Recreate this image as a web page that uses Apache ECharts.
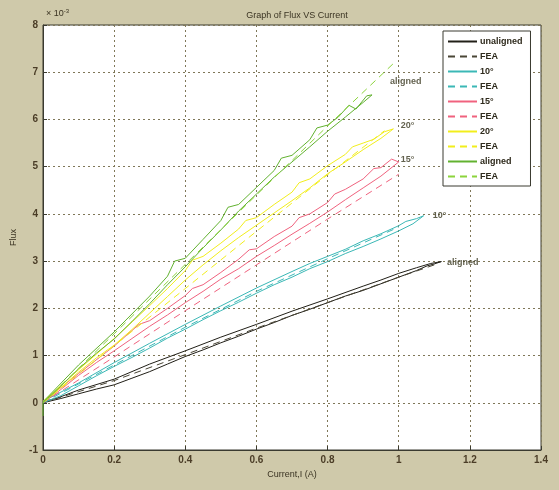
<!DOCTYPE html>
<html>
<head>
<meta charset="utf-8">
<script src="https://cdn.jsdelivr.net/npm/echarts@6/dist/echarts.min.js"></script>
<style>
  html, body { margin: 0; padding: 0; background: #cfc9aa; }
  #chart { width: 559px; height: 490px; }
</style>
</head>
<body>
<div id="chart"></div>
<script>
// flux values are in units of 1e-3 Wb, current in A

const xTicks = [0, 0.2, 0.4, 0.6, 0.8, 1, 1.2, 1.4];
const yTicks = [-1, 0, 1, 2, 3, 4, 5, 6, 7, 8];

// measured loops (rising branch then falling branch)
const unalignedMeas = [
  [0, 0], [0.05, 0.09], [0.1, 0.19], [0.15, 0.29], [0.2, 0.38], [0.25, 0.52], [0.3, 0.66],
  [0.35, 0.82], [0.4, 0.98], [0.45, 1.12], [0.5, 1.27], [0.55, 1.41], [0.6, 1.56],
  [0.65, 1.7], [0.7, 1.85], [0.75, 1.98], [0.8, 2.12], [0.85, 2.26], [0.9, 2.38],
  [0.95, 2.52], [1.0, 2.66], [1.05, 2.8], [1.08, 2.9], [1.1, 2.94], [1.12, 2.99],
  [1.09, 2.95], [1.05, 2.86], [1.0, 2.74], [0.95, 2.6], [0.9, 2.47], [0.8, 2.2],
  [0.7, 1.94], [0.6, 1.66], [0.5, 1.39], [0.4, 1.1], [0.3, 0.82], [0.2, 0.5],
  [0.1, 0.27], [0.04, 0.1], [0, 0.02]
];
const unalignedFea = [[0, 0], [0.2, 0.47], [0.4, 1.02], [0.6, 1.58], [0.8, 2.12], [1.0, 2.66], [1.1, 2.92]];

const deg10Meas = [
  [0, 0], [0.05, 0.15], [0.1, 0.36], [0.15, 0.57], [0.2, 0.77], [0.25, 0.96], [0.3, 1.16],
  [0.35, 1.37], [0.4, 1.56], [0.45, 1.76], [0.5, 1.95], [0.55, 2.13], [0.6, 2.32],
  [0.65, 2.5], [0.7, 2.66], [0.75, 2.84], [0.8, 2.99], [0.85, 3.16], [0.9, 3.31],
  [0.95, 3.47], [1.0, 3.64], [1.04, 3.79], [1.07, 3.96],
  [1.05, 3.9], [1.02, 3.84], [1.0, 3.75], [0.95, 3.58], [0.9, 3.43], [0.85, 3.25],
  [0.8, 3.1], [0.75, 2.95], [0.7, 2.78], [0.6, 2.43], [0.5, 2.05], [0.4, 1.66],
  [0.3, 1.26], [0.2, 0.85], [0.1, 0.42], [0, 0.03]
];
const deg10Fea = [[0, 0], [0.2, 0.8], [0.4, 1.6], [0.6, 2.36], [0.8, 3.05], [1.0, 3.72]];

const deg15Meas = [
  [0, 0], [0.05, 0.28], [0.1, 0.58], [0.15, 0.85], [0.2, 1.1], [0.25, 1.36], [0.3, 1.62],
  [0.35, 1.86], [0.4, 2.12], [0.45, 2.36], [0.5, 2.62], [0.55, 2.84], [0.6, 3.1],
  [0.65, 3.33], [0.7, 3.57], [0.75, 3.8], [0.8, 4.04], [0.85, 4.3], [0.9, 4.55],
  [0.95, 4.8], [1.0, 5.1],
  [0.98, 5.16], [0.95, 4.98], [0.93, 4.96], [0.9, 4.74], [0.85, 4.52], [0.82, 4.42],
  [0.8, 4.24], [0.75, 4.0], [0.72, 3.92], [0.7, 3.74], [0.65, 3.52], [0.6, 3.26],
  [0.58, 3.24], [0.55, 3.04], [0.5, 2.76], [0.45, 2.5], [0.42, 2.42], [0.4, 2.27],
  [0.35, 2.0], [0.3, 1.74], [0.27, 1.66], [0.2, 1.2], [0.1, 0.62], [0, 0.02]
];
const deg15Fea = [[0, 0], [0.2, 0.97], [0.4, 1.95], [0.6, 2.92], [0.8, 3.89], [1.0, 4.84]];

const deg20Meas = [
  [0, 0], [0.05, 0.32], [0.1, 0.65], [0.15, 0.95], [0.2, 1.22], [0.25, 1.55], [0.3, 1.9],
  [0.35, 2.25], [0.4, 2.6], [0.45, 2.92], [0.5, 3.22], [0.55, 3.5], [0.6, 3.76],
  [0.65, 4.02], [0.7, 4.28], [0.75, 4.55], [0.8, 4.85], [0.85, 5.1], [0.9, 5.36],
  [0.95, 5.6], [0.985, 5.8],
  [0.96, 5.74], [0.93, 5.58], [0.9, 5.5], [0.87, 5.42], [0.85, 5.26], [0.8, 5.02],
  [0.75, 4.74], [0.72, 4.66], [0.7, 4.46], [0.65, 4.2], [0.6, 3.92], [0.57, 3.86],
  [0.55, 3.68], [0.5, 3.38], [0.45, 3.1], [0.42, 3.02], [0.4, 2.8], [0.35, 2.42],
  [0.3, 2.06], [0.2, 1.36], [0.1, 0.7], [0, 0.03]
];
const deg20Fea = [[0, 0], [0.2, 1.21], [0.4, 2.42], [0.6, 3.63], [0.8, 4.83], [0.96, 5.76]];

const alignedMeas = [
  [0, -0.28], [0, 0], [0.05, 0.35], [0.1, 0.72], [0.15, 1.05], [0.2, 1.35], [0.25, 1.72],
  [0.3, 2.1], [0.35, 2.5], [0.4, 2.88], [0.45, 3.28], [0.5, 3.66], [0.55, 4.06],
  [0.6, 4.42], [0.65, 4.78], [0.7, 5.1], [0.75, 5.42], [0.8, 5.75], [0.85, 6.05],
  [0.9, 6.36], [0.925, 6.52],
  [0.91, 6.5], [0.88, 6.22], [0.86, 6.3], [0.83, 6.05], [0.8, 5.88], [0.77, 5.82],
  [0.75, 5.57], [0.7, 5.24], [0.67, 5.18], [0.65, 4.92], [0.6, 4.56], [0.55, 4.2],
  [0.52, 4.14], [0.5, 3.86], [0.45, 3.46], [0.4, 3.06], [0.37, 3.0], [0.35, 2.68],
  [0.3, 2.26], [0.2, 1.5], [0.1, 0.8], [0, 0.02]
];
const alignedFea = [[0, 0], [0.2, 1.46], [0.4, 2.93], [0.6, 4.4], [0.8, 5.86], [0.99, 7.22]];

// text tags next to the curve ends
const tagText = ['aligned', '20°', '15°', '10°', 'aligned'];
const tagX = [0.97, 1.0, 1.0, 1.09, 1.13];
const tagY = [6.8, 5.87, 5.16, 3.97, 2.96];

const colours = {
  black: '#222018',
  cyan: '#3bb8b6',
  pink: '#f0627e',
  yellow: '#f2ee1c',
  green: '#62b230',
  greenFea: '#8cd43c'
};

const FONT = '"Liberation Sans", Arial, sans-serif';
const TXT = '#3a3322';
const TICK = '#4b3d27';

function measSeries(name, data, colour) {
  return {
    name: name,
    type: 'line',
    data: data,
    symbol: 'none',
    lineStyle: { width: 1, color: colour },
    itemStyle: { color: colour },
    animation: false
  };
}

function feaSeries(name, data, colour) {
  return {
    name: name,
    type: 'line',
    data: data,
    symbol: 'none',
    lineStyle: { width: 1, color: colour, type: [7, 5] },
    itemStyle: { color: colour },
    animation: false
  };
}

const chart = echarts.init(document.getElementById('chart'));

chart.setOption({
  backgroundColor: '#cfc9aa',
  animation: false,
  textStyle: { fontFamily: FONT },

  title: {
    text: 'Graph of Flux VS Current',
    left: 292,
    top: 6,
    textAlign: 'center',
    textStyle: { fontSize: 9, fontWeight: 'normal', color: TXT, fontFamily: FONT }
  },

  graphic: [{
    type: 'text',
    left: 46,
    top: 8,
    style: {
      text: '× 10{s|-3}',
      rich: { s: { fontSize: 6, verticalAlign: 'top', padding: [0, 0, 6, 0] } },
      fontSize: 9,
      fill: TXT,
      fontFamily: FONT
    }
  }],

  grid: {
    left: 43, right: 18, top: 25, bottom: 40,
    show: true,
    backgroundColor: '#ffffff',
    borderColor: '#3a3a30',
    borderWidth: 1
  },

  legend: {
    orient: 'vertical',
    left: 443,
    top: 31,
    width: 89,
    itemWidth: 29,
    itemHeight: 6,
    itemGap: 6,
    padding: [6, 8, 5, 4],
    backgroundColor: '#ffffff',
    borderColor: '#3a3a30',
    borderWidth: 1,
    itemStyle: { color: 'rgba(0,0,0,0)', borderColor: 'rgba(0,0,0,0)', borderWidth: 0 },
    data: ['unaligned', 'FEA0', '10°', 'FEA1', '15°', 'FEA2', '20°', 'FEA3', 'aligned', 'FEA4'],
    formatter: n => n.indexOf('FEA') === 0 ? 'FEA' : n,
    textStyle: { fontSize: 9, fontWeight: 'bold', color: '#2e2a1c', padding: [0, 0, 0, -2] }
  },

  xAxis: {
    type: 'value',
    min: 0,
    max: 1.4,
    interval: 0.2,
    name: 'Current,I (A)',
    nameLocation: 'middle',
    nameGap: 20,
    nameTextStyle: { fontSize: 9, color: TXT },
    axisLine: { show: true, onZero: false, lineStyle: { color: '#3a3a30' } },
    axisTick: { show: true, inside: true, length: 4, lineStyle: { color: '#3a3a30' } },
    axisLabel: { fontSize: 10, fontWeight: 'bold', color: TICK, margin: 5, showMinLabel: true, showMaxLabel: true },
    splitLine: { show: true, lineStyle: { color: '#7f7758', type: [2, 3], width: 1 } }
  },

  yAxis: {
    type: 'value',
    min: -1,
    max: 8,
    interval: 1,
    name: 'Flux',
    nameLocation: 'middle',
    nameGap: 23,
    nameTextStyle: { fontSize: 9, color: TXT },
    axisLine: { show: true, lineStyle: { color: '#3a3a30' } },
    axisTick: { show: true, inside: true, length: 4, lineStyle: { color: '#3a3a30' } },
    axisLabel: { fontSize: 10, fontWeight: 'bold', color: TICK, margin: 5, showMinLabel: true, showMaxLabel: true },
    splitLine: { show: true, lineStyle: { color: '#7f7758', type: [2, 3], width: 1 } }
  },

  series: [
    measSeries('unaligned', unalignedMeas, colours.black),
    feaSeries('FEA0', unalignedFea, '#4a4636'),
    measSeries('10°', deg10Meas, colours.cyan),
    feaSeries('FEA1', deg10Fea, colours.cyan),
    measSeries('15°', deg15Meas, colours.pink),
    feaSeries('FEA2', deg15Fea, colours.pink),
    measSeries('20°', deg20Meas, colours.yellow),
    feaSeries('FEA3', deg20Fea, colours.yellow),
    measSeries('aligned', alignedMeas, colours.green),
    feaSeries('FEA4', alignedFea, colours.greenFea),
    {
      name: 'tags',
      type: 'scatter',
      symbolSize: 0,
      silent: true,
      data: tagText.map((t, i) => ({ name: t, value: [tagX[i], tagY[i]] })),
      label: {
        show: true,
        position: 'right',
        distance: 2,
        formatter: p => p.name,
        fontSize: 9,
        fontWeight: 'bold',
        color: '#3b3a22'
      }
    }
  ]
});
</script>
</body>
</html>
